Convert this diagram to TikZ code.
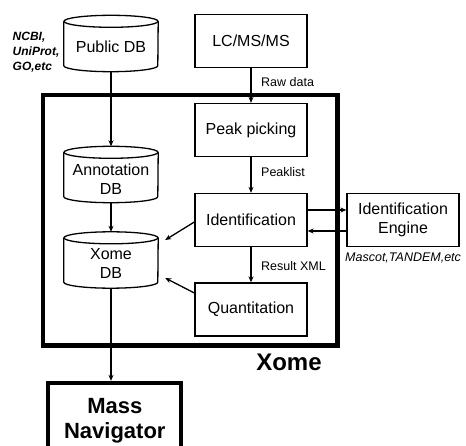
\documentclass[tikz,border=0pt]{standalone}
\usepackage{fontspec}
\setmainfont{Liberation Sans}
\usetikzlibrary{arrows.meta}
\tikzset{
  box/.style={draw, line width=1.3pt, minimum width=112pt, minimum height=53pt, inner sep=0pt,
    font=\fontsize{16}{19}\selectfont, align=center},
  dbnode/.style={minimum width=94pt, minimum height=56pt, inner sep=0pt},
  dbtext/.style={font=\fontsize{16}{19}\selectfont, align=center, inner sep=0pt},
  conn/.style={line width=1.3pt, -{Stealth[length=6pt,width=5pt]}},
  lbl/.style={font=\fontsize{12.5}{15}\selectfont, anchor=west, inner sep=0pt},
  thickbox/.style={draw, line width=4.3pt, inner sep=0pt},
}
\newcommand\dbdraw[1]{%
  \draw[line width=1.3pt] ([yshift=-6pt]#1.north) ellipse[x radius=47pt, y radius=6pt];
  \draw[line width=1.3pt] ([yshift=-6pt]#1.north west) -- ([yshift=6pt]#1.south west)
    arc[start angle=180, end angle=360, x radius=47pt, y radius=6pt] -- ([yshift=-6pt]#1.north east);}
\begin{document}
\begin{tikzpicture}[x=1pt,y=-1pt]
\useasboundingbox (0,0) rectangle (466,446);
\clip (0,0) rectangle (466,446);

% outer Xome box
\node[thickbox, minimum width=294.5pt, minimum height=250.5pt] (xome) at (190.25,220.25) {};
\node[font=\bfseries\fontsize{24}{28}\selectfont, inner sep=0pt] (xomelbl) at (289,362) {Xome};

% databases
\node[dbnode, label={[dbtext, yshift=-3pt]center:Public DB}] (pub) at (111,43.5) {};
\node[dbnode, label={[dbtext, yshift=-5pt]center:Annotation\\DB}] (ann) at (111,174.5) {};
\node[dbnode, label={[dbtext, yshift=-3pt]center:Xome\\DB}] (xdb) at (111,260) {};
\dbdraw{pub}
\dbdraw{ann}
\dbdraw{xdb}

\node[font=\bfseries\itshape\fontsize{12}{15}\selectfont, align=left, anchor=north west, inner sep=0pt] (src) at (12.5,31.5) {NCBI,\\UniProt,\\GO,etc};

% process boxes
\node[box] (lc) at (251,41) {LC/MS/MS};
\node[box] (peak) at (251,130) {Peak picking};
\node[box] (ident) at (251,220) {Identification};
\node[box] (quant) at (251,309.5) {Quantitation};
\node[box] (eng) at (403,220) {Identification\\Engine};
\node[font=\itshape\fontsize{12.5}{15}\selectfont, anchor=west, inner sep=0pt] (engl) at (345,258) {Mascot,TANDEM,etc};

% Mass Navigator
\node[thickbox, minimum width=133pt, minimum height=76pt, font=\bfseries\fontsize{22}{25}\selectfont, align=center] (mass) at (114.8,421) {Mass\\Navigator};

% connectors
\draw[conn] (lc) -- (peak);
\draw[conn] (peak) -- (ident);
\draw[conn] (ident) -- (quant);
\node[lbl] (rawl) at (261,82.5) {Raw data};
\node[lbl] (peakl) at (261,172.5) {Peaklist};
\node[lbl] (resl) at (261,266.5) {Result XML};

\draw[conn] ([yshift=10pt]ident.east) -- ([yshift=10pt]eng.west);
\draw[conn] ([yshift=-11pt]eng.west) -- ([yshift=-11pt]ident.east);

\draw[conn] (pub.south) -- (ann.north);
\draw[conn] (ann.south) -- (xdb.north);
\draw[conn] (xdb.south) -- (xdb.south |- mass.north);

\draw[conn] ([yshift=-2pt]ident.west) -- ([xshift=7pt,yshift=20pt]xdb.east);
\draw[conn] ([yshift=16.5pt]quant.west) -- ([xshift=7pt,yshift=-18pt]xdb.east);
\end{tikzpicture}
\end{document}
